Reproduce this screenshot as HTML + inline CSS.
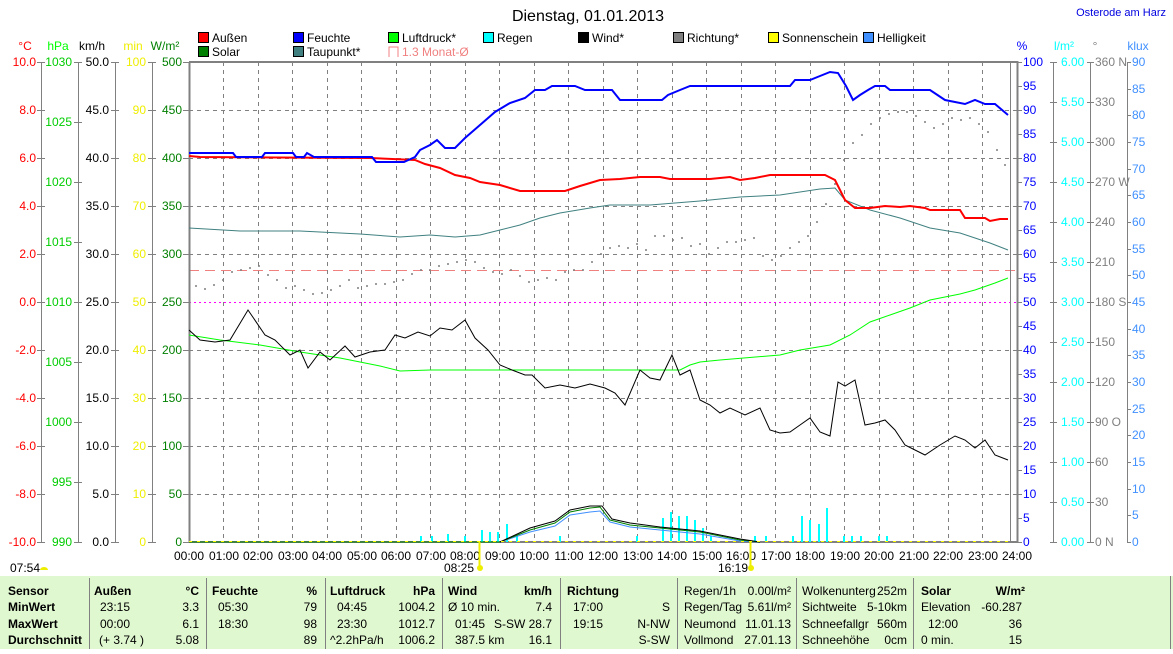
<!DOCTYPE html>
<html><head><meta charset="utf-8"><style>
body{margin:0;background:#fff;width:1173px;height:649px;overflow:hidden;font-family:"Liberation Sans",sans-serif}
svg text{font-family:"Liberation Sans",sans-serif;font-size:12px}
</style></head><body>
<svg width="1173" height="649" viewBox="0 0 1173 649" xmlns="http://www.w3.org/2000/svg">
<text x="588" y="21" text-anchor="middle" font-size="16" style="font-size:16px">Dienstag, 01.01.2013</text>
<text x="1166" y="16" text-anchor="end" fill="#0000e0" style="font-size:11px">Osterode am Harz</text>
<!-- legend -->
<g stroke="#000" stroke-width="1">
<rect x="198.5" y="32.5" width="10" height="10" fill="#f00"/><rect x="198.5" y="46.5" width="10" height="10" fill="#008000"/>
<rect x="293.5" y="32.5" width="10" height="10" fill="#00f"/><rect x="293.5" y="46.5" width="10" height="10" fill="#408080"/>
<rect x="388.5" y="32.5" width="10" height="10" fill="#0f0"/>
<rect x="483.5" y="32.5" width="10" height="10" fill="#0ff"/>
<rect x="578.5" y="32.5" width="10" height="10" fill="#000"/>
<rect x="673.5" y="32.5" width="10" height="10" fill="#808080"/>
<rect x="768.5" y="32.5" width="10" height="10" fill="#ff0"/>
<rect x="863.5" y="32.5" width="10" height="10" fill="#4090ff"/>
</g>
<path d="M389 57V47H398V57" fill="none" stroke="#f08080"/>
<g style="font-size:12px">
<text x="212" y="42">Außen</text><text x="212" y="56">Solar</text>
<text x="307" y="42">Feuchte</text><text x="307" y="56">Taupunkt*</text>
<text x="402" y="42">Luftdruck*</text><text x="402" y="56" fill="#f08080">1.3 Monat-Ø</text>
<text x="497" y="42">Regen</text><text x="592" y="42">Wind*</text><text x="687" y="42">Richtung*</text>
<text x="782" y="42">Sonnenschein</text><text x="877" y="42">Helligkeit</text>
</g>
<!-- unit labels -->
<text x="25" y="50" fill="#f00" text-anchor="middle">°C</text>
<text x="58" y="50" fill="#0f0" text-anchor="middle">hPa</text>
<text x="92" y="50" text-anchor="middle">km/h</text>
<text x="133" y="50" fill="#ee0" text-anchor="middle">min</text>
<text x="165" y="50" fill="#008000" text-anchor="middle">W/m²</text>
<text x="1022" y="50" fill="#00f" text-anchor="middle">%</text>
<text x="1064" y="50" fill="#0ff" text-anchor="middle">l/m²</text>
<text x="1095" y="50" fill="#808080" text-anchor="middle">°</text>
<text x="1138" y="50" fill="#4090ff" text-anchor="middle">klux</text>
<!-- grid -->
<g stroke="#808080" stroke-dasharray="4,4" stroke-width="1">
<path d="M223.5 62V542M258.5 62V542M292.5 62V542M327.5 62V542M361.5 62V542M396.5 62V542M430.5 62V542M465.5 62V542M499.5 62V542M534.5 62V542M568.5 62V542M603.5 62V542M637.5 62V542M672.5 62V542M706.5 62V542M741.5 62V542M775.5 62V542M810.5 62V542M844.5 62V542M879.5 62V542M913.5 62V542M948.5 62V542M982.5 62V542"/>
<path d="M189 110.5H1017M189 158.5H1017M189 206.5H1017M189 254.5H1017M189 350.5H1017M189 398.5H1017M189 446.5H1017M189 494.5H1017"/>
</g>
<path d="M189 302.5H1017" stroke="#f0f" stroke-dasharray="2,3"/>
<path d="M189 270.5H1017" stroke="#f08080" stroke-dasharray="10,6"/>
<path d="M189.5 62V542H1017.5V62H189" fill="none" stroke="#808080" stroke-width="2"/>
<path d="M1010.5 62V542" stroke="#808080"/>
<!-- axis lines -->
<g stroke="#808080"><path d="M41.5 62V542M78.5 62V542M115.5 62V542M152.5 62V542M1053.5 62V542M1090.5 62V542M1127.5 62V542"/></g>
<g id="ticks" stroke="#808080">
<path d="M37 62.5h8M37 110.5h8M37 158.5h8M37 206.5h8M37 254.5h8M37 302.5h8M37 350.5h8M37 398.5h8M37 446.5h8M37 494.5h8M37 542.5h8"/>
<path d="M74 62.5h8M74 122.5h8M74 182.5h8M74 242.5h8M74 302.5h8M74 362.5h8M74 422.5h8M74 482.5h8M74 542.5h8"/>
<path d="M111 62.5h8M111 110.5h8M111 158.5h8M111 206.5h8M111 254.5h8M111 302.5h8M111 350.5h8M111 398.5h8M111 446.5h8M111 494.5h8M111 542.5h8"/>
<path d="M148 62.5h8M148 110.5h8M148 158.5h8M148 206.5h8M148 254.5h8M148 302.5h8M148 350.5h8M148 398.5h8M148 446.5h8M148 494.5h8M148 542.5h8"/>
<path d="M183 62.5h6M183 110.5h6M183 158.5h6M183 206.5h6M183 254.5h6M183 302.5h6M183 350.5h6M183 398.5h6M183 446.5h6M183 494.5h6M183 542.5h6"/>
</g>
<g text-anchor="end" fill="#f00">
<text x="36" y="66">10.0</text><text x="36" y="114">8.0</text><text x="36" y="162">6.0</text><text x="36" y="210">4.0</text><text x="36" y="258">2.0</text><text x="36" y="306">0.0</text><text x="36" y="354">-2.0</text><text x="36" y="402">-4.0</text><text x="36" y="450">-6.0</text><text x="36" y="498">-8.0</text><text x="36" y="546">-10.0</text></g>
<g text-anchor="end" fill="#0c0">
<text x="72" y="66">1030</text><text x="72" y="126">1025</text><text x="72" y="186">1020</text><text x="72" y="246">1015</text><text x="72" y="306">1010</text><text x="72" y="366">1005</text><text x="72" y="426">1000</text><text x="72" y="486">995</text><text x="72" y="546">990</text></g>
<g text-anchor="end">
<text x="109" y="66">50.0</text><text x="109" y="114">45.0</text><text x="109" y="162">40.0</text><text x="109" y="210">35.0</text><text x="109" y="258">30.0</text><text x="109" y="306">25.0</text><text x="109" y="354">20.0</text><text x="109" y="402">15.0</text><text x="109" y="450">10.0</text><text x="109" y="498">5.0</text><text x="109" y="546">0.0</text></g>
<g text-anchor="end" fill="#ee0">
<text x="146" y="66">100</text><text x="146" y="114">90</text><text x="146" y="162">80</text><text x="146" y="210">70</text><text x="146" y="258">60</text><text x="146" y="306">50</text><text x="146" y="354">40</text><text x="146" y="402">30</text><text x="146" y="450">20</text><text x="146" y="498">10</text><text x="146" y="546">0</text></g>
<g text-anchor="end" fill="#008000">
<text x="182" y="66">500</text><text x="182" y="114">450</text><text x="182" y="162">400</text><text x="182" y="210">350</text><text x="182" y="258">300</text><text x="182" y="306">250</text><text x="182" y="354">200</text><text x="182" y="402">150</text><text x="182" y="450">100</text><text x="182" y="498">50</text><text x="182" y="546">0</text></g>
<!-- right axes -->
<g stroke="#808080">
<path d="M1017 62.5h5M1017 86.5h5M1017 110.5h5M1017 134.5h5M1017 158.5h5M1017 182.5h5M1017 206.5h5M1017 230.5h5M1017 254.5h5M1017 278.5h5M1017 302.5h5M1017 326.5h5M1017 350.5h5M1017 374.5h5M1017 398.5h5M1017 422.5h5M1017 446.5h5M1017 470.5h5M1017 494.5h5M1017 518.5h5M1017 542.5h5"/>
<path d="M1050 62.5h7M1050 102.5h7M1050 142.5h7M1050 182.5h7M1050 222.5h7M1050 262.5h7M1050 302.5h7M1050 342.5h7M1050 382.5h7M1050 422.5h7M1050 462.5h7M1050 502.5h7M1050 542.5h7"/>
<path d="M1087 62.5h7M1087 102.5h7M1087 142.5h7M1087 182.5h7M1087 222.5h7M1087 262.5h7M1087 302.5h7M1087 342.5h7M1087 382.5h7M1087 422.5h7M1087 462.5h7M1087 502.5h7M1087 542.5h7"/>
<path d="M1127 62.5h4M1127 89.5h4M1127 115.5h4M1127 142.5h4M1127 169.5h4M1127 195.5h4M1127 222.5h4M1127 249.5h4M1127 275.5h4M1127 302.5h4M1127 329.5h4M1127 355.5h4M1127 382.5h4M1127 409.5h4M1127 435.5h4M1127 462.5h4M1127 489.5h4M1127 515.5h4M1127 542.5h4"/>
</g>
<g fill="#00f">
<text x="1023" y="66">100</text><text x="1023" y="90">95</text><text x="1023" y="114">90</text><text x="1023" y="138">85</text><text x="1023" y="162">80</text><text x="1023" y="186">75</text><text x="1023" y="210">70</text><text x="1023" y="234">65</text><text x="1023" y="258">60</text><text x="1023" y="282">55</text><text x="1023" y="306">50</text><text x="1023" y="330">45</text><text x="1023" y="354">40</text><text x="1023" y="378">35</text><text x="1023" y="402">30</text><text x="1023" y="426">25</text><text x="1023" y="450">20</text><text x="1023" y="474">15</text><text x="1023" y="498">10</text><text x="1023" y="522">5</text><text x="1023" y="546">0</text></g>
<g fill="#0ff">
<text x="1061" y="66">6.00</text><text x="1061" y="146">5.00</text><text x="1061" y="106">5.50</text><text x="1061" y="186">4.50</text><text x="1061" y="226">4.00</text><text x="1061" y="266">3.50</text><text x="1061" y="306">3.00</text><text x="1061" y="346">2.50</text><text x="1061" y="386">2.00</text><text x="1061" y="426">1.50</text><text x="1061" y="466">1.00</text><text x="1061" y="506">0.50</text><text x="1061" y="546">0.00</text></g>
<g fill="#808080" style="font-size:11px">
<text x="1095" y="66">360 N</text><text x="1095" y="106">330</text><text x="1095" y="146">300</text><text x="1095" y="186">270 W</text><text x="1095" y="226">240</text><text x="1095" y="266">210</text><text x="1095" y="306">180 S</text><text x="1095" y="346">150</text><text x="1095" y="386">120</text><text x="1095" y="426">90  O</text><text x="1095" y="466">60</text><text x="1095" y="506">30</text><text x="1095" y="546">0   N</text></g>
<g fill="#4090ff">
<text x="1132" y="66">90</text><text x="1132" y="93">85</text><text x="1132" y="119">80</text><text x="1132" y="146">75</text><text x="1132" y="173">70</text><text x="1132" y="199">65</text><text x="1132" y="226">60</text><text x="1132" y="253">55</text><text x="1132" y="279">50</text><text x="1132" y="306">45</text><text x="1132" y="333">40</text><text x="1132" y="359">35</text><text x="1132" y="386">30</text><text x="1132" y="413">25</text><text x="1132" y="439">20</text><text x="1132" y="466">15</text><text x="1132" y="493">10</text><text x="1132" y="519">5</text><text x="1132" y="546">0</text></g>
<!-- rain bars -->
<g stroke="#0ff" stroke-width="2">
<path d="M421 542v-6M432 542v-6M448 542v-8M465 542v-6M482 542v-12M490 542v-10M498 542v-10M507 542v-18M517 542v-6M560 542v-6M637 542v-6M663 542v-24M671 542v-30M679 542v-26M687 542v-26M695 542v-22M703 542v-14M711 542v-6M755 542v-6M766 542v-6M793 542v-6M802 542v-26M810 542v-22M819 542v-18M827 542v-34M844 542v-6M852 542v-6M861 542v-6M879 542v-6M887 542v-6"/>
</g>
<!-- small solar/brightness bumps -->
<polyline fill="none" stroke="#4090ff" points="189,542 500,542 530,532 555,526 570,515 590,512 600,511 610,522 630,527 660,530 700,534 740,541 760,542"/>
<polyline fill="none" stroke="#008000" points="189,542 500,542 530,530 555,523 570,512 590,508 600,507 610,520 630,525 660,528 700,532 740,540 760,542"/>
<polyline fill="none" stroke="#000" points="500,542 530,528 555,521 570,510 590,506 602,506 612,519 630,523 660,527 700,531 740,539 760,542"/>
<path d="M189 541.5H1008" stroke="#ff0" stroke-dasharray="3,5"/>
<!-- direction dots -->
<g fill="#808080">
<circle cx="196" cy="286" r="1"/><circle cx="205" cy="289" r="1"/><circle cx="214" cy="285" r="1"/><circle cx="223" cy="280" r="1"/><circle cx="232" cy="272" r="1"/><circle cx="241" cy="270" r="1"/><circle cx="250" cy="268" r="1"/><circle cx="259" cy="266" r="1"/><circle cx="268" cy="275" r="1"/><circle cx="277" cy="280" r="1"/><circle cx="286" cy="288" r="1"/><circle cx="295" cy="286" r="1"/><circle cx="304" cy="290" r="1"/><circle cx="313" cy="294" r="1"/><circle cx="322" cy="293" r="1"/><circle cx="331" cy="290" r="1"/><circle cx="340" cy="286" r="1"/><circle cx="349" cy="280" r="1"/><circle cx="358" cy="288" r="1"/><circle cx="367" cy="286" r="1"/><circle cx="376" cy="284" r="1"/><circle cx="385" cy="284" r="1"/><circle cx="394" cy="282" r="1"/><circle cx="403" cy="280" r="1"/><circle cx="412" cy="274" r="1"/><circle cx="421" cy="270" r="1"/><circle cx="430" cy="270" r="1"/><circle cx="439" cy="266" r="1"/><circle cx="448" cy="264" r="1"/><circle cx="457" cy="262" r="1"/><circle cx="466" cy="260" r="1"/><circle cx="475" cy="262" r="1"/><circle cx="484" cy="268" r="1"/><circle cx="493" cy="272" r="1"/><circle cx="502" cy="274" r="1"/><circle cx="511" cy="270" r="1"/><circle cx="520" cy="276" r="1"/><circle cx="529" cy="282" r="1"/><circle cx="538" cy="280" r="1"/><circle cx="547" cy="278" r="1"/><circle cx="556" cy="280" r="1"/><circle cx="565" cy="272" r="1"/><circle cx="574" cy="270" r="1"/><circle cx="583" cy="270" r="1"/><circle cx="592" cy="262" r="1"/><circle cx="601" cy="254" r="1"/><circle cx="610" cy="248" r="1"/><circle cx="619" cy="246" r="1"/><circle cx="628" cy="248" r="1"/><circle cx="637" cy="244" r="1"/><circle cx="646" cy="250" r="1"/><circle cx="655" cy="236" r="1"/><circle cx="664" cy="236" r="1"/><circle cx="673" cy="240" r="1"/><circle cx="682" cy="238" r="1"/><circle cx="691" cy="246" r="1"/><circle cx="700" cy="244" r="1"/><circle cx="709" cy="254" r="1"/><circle cx="718" cy="248" r="1"/><circle cx="727" cy="242" r="1"/><circle cx="736" cy="242" r="1"/><circle cx="745" cy="240" r="1"/><circle cx="754" cy="238" r="1"/><circle cx="763" cy="256" r="1"/><circle cx="772" cy="260" r="1"/><circle cx="781" cy="256" r="1"/><circle cx="790" cy="248" r="1"/><circle cx="799" cy="242" r="1"/><circle cx="808" cy="236" r="1"/><circle cx="817" cy="222" r="1"/><circle cx="826" cy="204" r="1"/><circle cx="835" cy="184" r="1"/><circle cx="844" cy="160" r="1"/><circle cx="853" cy="143" r="1"/><circle cx="862" cy="135" r="1"/><circle cx="871" cy="124" r="1"/><circle cx="880" cy="118" r="1"/><circle cx="889" cy="114" r="1"/><circle cx="898" cy="112" r="1"/><circle cx="907" cy="112" r="1"/><circle cx="916" cy="116" r="1"/><circle cx="925" cy="122" r="1"/><circle cx="934" cy="128" r="1"/><circle cx="943" cy="124" r="1"/><circle cx="952" cy="118" r="1"/><circle cx="961" cy="120" r="1"/><circle cx="970" cy="118" r="1"/><circle cx="979" cy="124" r="1"/><circle cx="988" cy="132" r="1"/><circle cx="997" cy="150" r="1"/><circle cx="1005" cy="165" r="1"/>
</g>
<!-- series -->
<polyline fill="none" stroke="#0f0" points="189,335 220,340 260,345 300,352 340,358 380,366 400,371 430,370 650,370 680,370 690,365 700,362 720,360 780,355 800,350 830,345 850,335 870,322 890,315 910,308 930,300 960,294 975,290 995,283 1008,278"/>
<polyline fill="none" stroke="#408080" points="189,228 240,231 300,231 360,234 400,237 430,235 455,237 480,235 500,230 520,225 540,218 560,213 590,208 610,205 650,205 700,201 740,197 780,195 820,189 835,188 845,200 870,210 900,218 930,228 960,233 990,243 1008,250"/>
<polyline fill="none" stroke="#000" points="189,330 200,340 215,342 230,340 248,310 265,335 275,340 290,355 300,350 308,368 320,352 330,360 345,346 355,357 370,352 385,350 395,335 405,338 418,332 430,336 440,328 452,330 465,320 475,338 488,350 500,365 512,370 525,375 532,375 545,388 560,385 575,388 590,384 605,388 615,393 625,405 640,370 650,378 660,380 672,355 680,375 690,370 700,400 710,405 720,413 730,408 745,415 760,408 770,430 780,433 790,432 800,425 810,418 820,432 830,436 838,382 845,386 855,380 865,425 875,423 885,420 895,430 905,445 915,450 925,455 940,445 955,436 965,440 975,448 985,440 995,455 1008,460"/>
<polyline fill="none" stroke="#f00" stroke-width="2" points="189,156 200,157 370,158 415,160 425,164 440,168 455,175 470,178 480,182 500,185 520,191 565,191 580,186 600,180 620,179 640,177 660,177 670,179 710,179 730,177 740,180 755,178 770,175 825,175 835,180 845,200 855,208 870,208 885,206 900,207 910,206 925,208 930,210 960,210 965,218 985,218 990,221 1000,219 1008,219"/>
<polyline fill="none" stroke="#00f" stroke-width="2" points="189,153 233,153 236,157 262,157 265,153 293,153 296,157 304,157 307,153 314,157 372,157 376,162 404,162 415,157 420,150 430,145 437,140 445,148 455,148 465,138 480,125 495,112 510,103 525,98 535,90 545,90 552,86 568,86 575,86 585,90 612,90 620,100 662,100 668,95 680,90 690,86 790,86 795,80 810,80 820,76 830,72 838,73 846,86 853,100 860,95 868,90 875,86 885,86 890,90 930,90 945,100 965,104 975,100 985,104 995,104 1008,115"/>
<!-- x labels -->
<g text-anchor="middle">
<text x="189" y="560">00:00</text><text x="224" y="560">01:00</text><text x="258" y="560">02:00</text><text x="293" y="560">03:00</text><text x="327" y="560">04:00</text><text x="362" y="560">05:00</text><text x="396" y="560">06:00</text><text x="431" y="560">07:00</text><text x="465" y="560">08:00</text><text x="500" y="560">09:00</text><text x="534" y="560">10:00</text><text x="569" y="560">11:00</text><text x="603" y="560">12:00</text><text x="638" y="560">13:00</text><text x="672" y="560">14:00</text><text x="707" y="560">15:00</text><text x="741" y="560">16:00</text><text x="776" y="560">17:00</text><text x="810" y="560">18:00</text><text x="845" y="560">19:00</text><text x="879" y="560">20:00</text><text x="914" y="560">21:00</text><text x="948" y="560">22:00</text><text x="983" y="560">23:00</text><text x="1017" y="560">24:00</text>
</g>
<path d="M479.5 542V569M750.5 542V569" stroke="#ee0" stroke-width="2"/>
<text x="459" y="572" text-anchor="middle">08:25</text><circle cx="480" cy="568" r="3" fill="#ee0"/>
<text x="733" y="572" text-anchor="middle">16:19</text><circle cx="751" cy="568" r="3" fill="#ee0"/>
<text x="10" y="572">07:54</text><path d="M40 570a4 3 0 0 1 8 0z" fill="#ee0"/>
<!-- table -->
<rect x="0" y="576" width="1173" height="73" fill="#e0f8d0"/>
<g stroke="#808080"><path d="M89.5 578V649M206.5 578V649M325.5 578V649M442.5 578V649M560.5 578V649M677.5 578V649M796.5 578V649M913.5 578V649M1170.5 576V649"/></g>
<g font-weight="bold" style="font-weight:bold">
<text x="8" y="595">Sensor</text><text x="8" y="611">MinWert</text><text x="8" y="628">MaxWert</text><text x="8" y="644">Durchschnitt</text>
<text x="94" y="595">Außen</text><text x="199" y="595" text-anchor="end">°C</text>
<text x="212" y="595">Feuchte</text><text x="317" y="595" text-anchor="end">%</text>
<text x="330" y="595">Luftdruck</text><text x="435" y="595" text-anchor="end">hPa</text>
<text x="448" y="595">Wind</text><text x="552" y="595" text-anchor="end">km/h</text>
<text x="567" y="595">Richtung</text>
<text x="921" y="595">Solar</text><text x="1025" y="595" text-anchor="end">W/m²</text>
</g>
<g>
<text x="100" y="611">23:15</text><text x="199" y="611" text-anchor="end">3.3</text>
<text x="100" y="628">00:00</text><text x="199" y="628" text-anchor="end">6.1</text>
<text x="99" y="644">(+ 3.74 )</text><text x="199" y="644" text-anchor="end">5.08</text>
<text x="218" y="611">05:30</text><text x="317" y="611" text-anchor="end">79</text>
<text x="218" y="628">18:30</text><text x="317" y="628" text-anchor="end">98</text>
<text x="317" y="644" text-anchor="end">89</text>
<text x="337" y="611">04:45</text><text x="435" y="611" text-anchor="end">1004.2</text>
<text x="337" y="628">23:30</text><text x="435" y="628" text-anchor="end">1012.7</text>
<text x="330" y="644">^2.2hPa/h</text><text x="435" y="644" text-anchor="end">1006.2</text>
<text x="448" y="611">Ø 10 min.</text><text x="552" y="611" text-anchor="end">7.4</text>
<text x="455" y="628">01:45</text><text x="552" y="628" text-anchor="end">S-SW 28.7</text>
<text x="455" y="644">387.5 km</text><text x="552" y="644" text-anchor="end">16.1</text>
<text x="573" y="611">17:00</text><text x="670" y="611" text-anchor="end">S</text>
<text x="573" y="628">19:15</text><text x="670" y="628" text-anchor="end">N-NW</text>
<text x="670" y="644" text-anchor="end">S-SW</text>
<text x="684" y="595">Regen/1h</text><text x="791" y="595" text-anchor="end">0.00l/m²</text>
<text x="684" y="611">Regen/Tag</text><text x="791" y="611" text-anchor="end">5.61l/m²</text>
<text x="684" y="628">Neumond</text><text x="791" y="628" text-anchor="end">11.01.13</text>
<text x="684" y="644">Vollmond</text><text x="791" y="644" text-anchor="end">27.01.13</text>
<text x="802" y="595">Wolkenunterg</text><text x="907" y="595" text-anchor="end">252m</text>
<text x="802" y="611">Sichtweite</text><text x="907" y="611" text-anchor="end">5-10km</text>
<text x="802" y="628">Schneefallgr</text><text x="907" y="628" text-anchor="end">560m</text>
<text x="802" y="644">Schneehöhe</text><text x="907" y="644" text-anchor="end">0cm</text>
<text x="921" y="611">Elevation</text><text x="1022" y="611" text-anchor="end">-60.287</text>
<text x="928" y="628">12:00</text><text x="1022" y="628" text-anchor="end">36</text>
<text x="921" y="644">0 min.</text><text x="1022" y="644" text-anchor="end">15</text>
</g>
</svg>
</body></html>
